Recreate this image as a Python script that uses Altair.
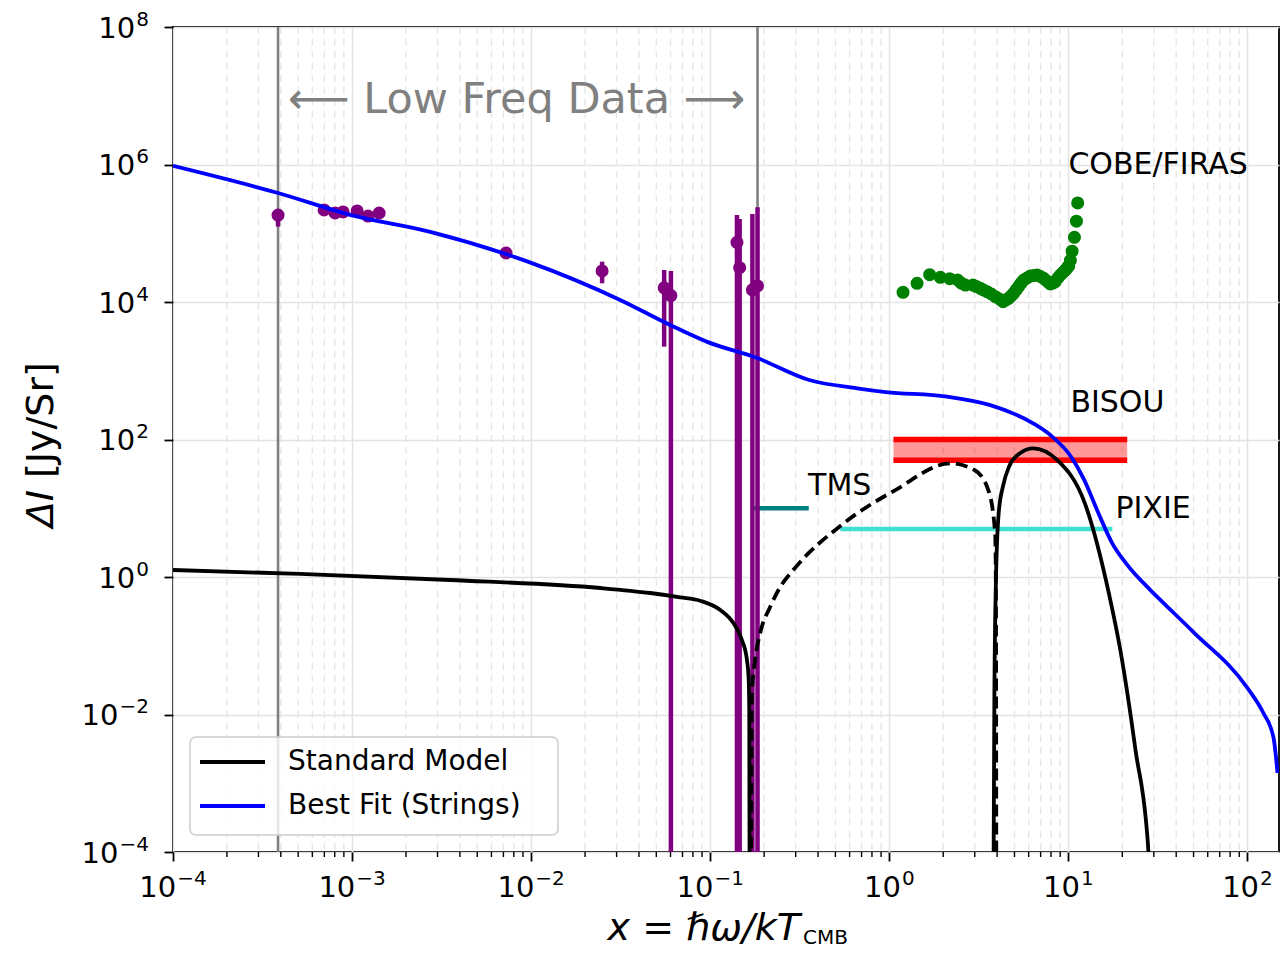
import altair as alt
import pandas as pd

FONT = "DejaVu Sans"
W, H = 1106, 825

# ---------------- data ----------------
best_fit_x = [1.0e-4, 3.86e-4, 9.86e-4, 2.73e-3, 9.75e-3, 3.14e-2, 5.98e-2, 9.62e-2, 0.183, 0.357,
              0.662, 0.955, 2.10, 3.66, 6.35, 7.93, 10.35, 12.27, 14.72, 17.58, 20.99, 28.7,
              32.7, 49.9, 100.0, 122.7, 139.6, 147.2]
best_fit_y = [9.55e5, 3.85e5, 1.84e5, 1.05e5, 3.80e4, 1.07e4, 4620, 2630, 1530, 733,
              556, 490, 420, 316, 172, 116, 56.2, 25.7, 8.45, 3.09, 1.58, 0.646,
              0.462, 0.158, 0.0243, 0.0105, 0.00468, 0.00141]

# Standard model |ΔI|: positive branch 1, negative (dashed) branch, positive branch 2
sm_pos1_x = [1e-4, 5.12e-4, 3.52e-3, 0.0243, 0.0462, 0.0679, 0.0879, 0.1138, 0.1349, 0.1503,
             0.1603, 0.1637, 0.1652, 0.1660]
sm_pos1_y = [1.265, 1.107, 0.904, 0.692, 0.585, 0.507, 0.452, 0.331, 0.212, 0.121,
             0.0621, 0.0355, 0.0116, 1e-5]
sm_neg_x = [0.1686, 0.171, 0.178, 0.190, 0.216, 0.246, 0.291, 0.556, 1.081, 2.19, 2.99, 3.57,
            3.90, 3.94, 3.96]
sm_neg_y = [1e-5, 0.0206, 0.0621, 0.153, 0.366, 0.716, 1.265, 6.04, 18.4, 45.1, 36.0, 18.4,
            4.32, 0.462, 1e-5]
sm_pos2_x = [3.81, 3.86, 3.94, 4.08, 4.33, 4.66, 5.39, 6.35, 8.65, 12.36, 16.83, 19.5, 23.7,
             28.0, 29.4]
sm_pos2_y = [1e-5, 0.0163, 0.904, 8.45, 21.8, 40.2, 63.7, 74.5, 50.4, 11.8, 0.579, 0.0867,
             0.00305, 1e-4, 1e-5]

# Low-frequency data points with error bars
lf_x = [3.86e-4, 6.98e-4, 8.04e-4, 8.91e-4, 1.067e-3, 1.227e-3, 1.416e-3, 7.24e-3, 0.0249,
        0.0553, 0.0603, 0.141, 0.146, 0.172, 0.1837]
lf_y = [1.84e5, 2.18e5, 1.97e5, 2.04e5, 2.11e5, 1.78e5, 1.97e5, 5.16e4, 2.83e4,
        1.61e4, 1.24e4, 7.39e4, 3.16e4, 1.50e4, 1.71e4]
lf_lo = [1.25e5, 2.18e5, 1.97e5, 2.04e5, 2.11e5, 1.78e5, 1.97e5, 5.16e4, 1.87e4,
         2240, 1e-5, 1e-5, 1e-5, 1e-5, 1e-5]
lf_hi = [2.2e5, 2.18e5, 1.97e5, 2.04e5, 2.11e5, 1.78e5, 1.97e5, 5.16e4, 3.86e4,
         2.92e4, 2.83e4, 1.84e5, 1.61e5, 1.90e5, 2.38e5]

# COBE/FIRAS
firas_x = [1.193, 1.429, 1.680, 1.928, 2.173, 2.409, 2.524, 2.659, 2.935, 3.062, 3.224, 3.350,
           3.516, 3.715, 3.909, 4.121, 4.317, 4.477, 4.637, 4.786, 4.943, 5.105, 5.272, 5.445,
           5.623, 5.875, 6.136, 6.397, 6.683, 6.982, 7.278, 7.603, 7.925, 8.185, 8.453, 8.730,
           9.016, 9.311, 9.616, 9.840, 10.04, 10.26, 10.49, 10.81, 11.09, 11.27]
firas_y = [13840, 18700, 24950, 22860, 21830, 20890, 18880, 17660, 17660, 16790, 15810, 14960,
           14120, 13070, 11940, 11060, 10090, 10690, 11320, 12220, 13380, 14960, 16700, 18880,
           20890, 22340, 23900, 24270, 24700, 23500, 22130, 20190, 18270, 18880, 19720, 22340,
           24700, 26850, 29170, 31260, 33420, 40180, 54830, 87300, 149600, 276000]

# Experiment sensitivities
bisou_x = [1.055, 21.3]
bisou_y = [50, 100]
tms_x = [0.176, 0.355]
tms_y = 10
pixie_x = [0.532, 17.6]
pixie_y = 5

# Low-frequency range boundaries
lowfreq_bounds = [3.86e-4, 0.1837]

# Annotations
ann_text = ["COBE/FIRAS", "BISOU", "TMS", "PIXIE"]
ann_x = [10.0, 10.26, 0.352, 18.3]
ann_y = [9.84e5, 340, 21.1, 9.75]

# Legend
legend_labels = ["Standard Model", "Best Fit (Strings)"]
legend_colors = ["black", "blue"]

# Axis ticks (labels are 10 with a superscript exponent)
x_major = [1e-4, 1e-3, 1e-2, 1e-1, 1e0, 1e1, 1e2]
x_exp = ["−4", "−3", "−2", "−1", "0", "1", "2"]
y_major = [1e-4, 1e-2, 1e0, 1e2, 1e4, 1e6, 1e8]
y_exp = ["−4", "−2", "0", "2", "4", "6", "8"]
x_minor = [m * d for d in x_major for m in range(2, 10) if m * d <= 150]

# ---------------- styling helpers ----------------
BASE_FS, EXP_FS = 29, 20
W10 = 2 * 0.636 * BASE_FS


def expw(s):
    return sum(0.838 if c == "−" else 0.636 for c in s) * EXP_FS


xs = alt.Scale(type="log", domain=[1e-4, 150], nice=False)
ys = alt.Scale(type="log", domain=[1e-4, 1e8], nice=False)

# ---------------- frames ----------------
lines_rows = []
for xv, yv in zip(sm_pos1_x, sm_pos1_y):
    lines_rows.append({"x": xv, "y": yv, "model": legend_labels[0], "seg": "a"})
for xv, yv in zip(sm_pos2_x, sm_pos2_y):
    lines_rows.append({"x": xv, "y": yv, "model": legend_labels[0], "seg": "b"})
for xv, yv in zip(best_fit_x, best_fit_y):
    lines_rows.append({"x": xv, "y": yv, "model": legend_labels[1], "seg": "c"})
lines_df = pd.DataFrame(lines_rows)
neg_df = pd.DataFrame({"x": sm_neg_x, "y": sm_neg_y})
lf_df = pd.DataFrame({"x": lf_x, "y": lf_y, "lo": lf_lo, "hi": lf_hi})
firas_df = pd.DataFrame({"x": firas_x, "y": firas_y})
minor_df = pd.DataFrame({"x": x_minor})
bounds_df = pd.DataFrame({"x": lowfreq_bounds})
bisou_df = pd.DataFrame({"x": [bisou_x[0]], "x2": [bisou_x[1]], "lo": [bisou_y[0]], "hi": [bisou_y[1]]})
bisou_lines = pd.DataFrame({"x": [bisou_x[0]] * 2, "x2": [bisou_x[1]] * 2, "y": bisou_y})
tms_df = pd.DataFrame({"x": [tms_x[0]], "x2": [tms_x[1]], "y": [tms_y]})
pixie_df = pd.DataFrame({"x": [pixie_x[0]], "x2": [pixie_x[1]], "y": [pixie_y]})
ann_df = pd.DataFrame({"x": ann_x, "y": ann_y, "t": ann_text})
lowfreq_df = pd.DataFrame({"x": [8.30e-3], "y": [8.67e6], "t": ["⟵ Low Freq Data ⟶"]})
leg_df = pd.DataFrame({"label": legend_labels, "color": legend_colors, "row": [0, 1]})
one = pd.DataFrame({"a": [0]})
xl_df = pd.DataFrame({"x": x_major, "e": x_exp})
yl_df = pd.DataFrame({"y": y_major, "e": y_exp,
                      "bx": [-24 - expw(e) - 1 for e in y_exp]})


def X(f="x"):
    return alt.X(f"{f}:Q", scale=xs, axis=None)


def Y(f="y"):
    return alt.Y(f"{f}:Q", scale=ys, axis=None)


legend_row = alt.Y("row:Q", scale=alt.Scale(domain=[0, 1], range=[735, 779]), axis=None)

minor_grid = alt.Chart(minor_df).mark_rule(color="#e6e6e6", strokeWidth=1.4, strokeDash=[7, 5]).encode(x=X())
minor_ticks = alt.Chart(minor_df).mark_rule(color="black", strokeWidth=1.4).encode(
    x=X(), y=alt.value(H), y2=alt.value(H + 5))
bounds = alt.Chart(bounds_df).mark_rule(color="#808080", strokeWidth=2.6).encode(x=X())
lowfreq = alt.Chart(lowfreq_df).mark_text(font=FONT, fontSize=43, color="#808080",
                                          align="center", baseline="middle").encode(
    x=X(), y=Y(), text="t:N")
bisou_fill = alt.Chart(bisou_df).mark_rect(color="#ff0000", opacity=0.4).encode(
    x=X(), x2="x2:Q", y=Y("lo"), y2="hi:Q")
bisou_rules = alt.Chart(bisou_lines).mark_rule(color="#ff0000", strokeWidth=5.5).encode(
    x=X(), x2="x2:Q", y=Y())
tms = alt.Chart(tms_df).mark_rule(color="#008080", strokeWidth=4.5).encode(x=X(), x2="x2:Q", y=Y())
pixie = alt.Chart(pixie_df).mark_rule(color="#40e0d0", strokeWidth=4.5).encode(x=X(), x2="x2:Q", y=Y())
errbars = alt.Chart(lf_df).mark_rule(color="#800080", strokeWidth=4.5, clip=True).encode(
    x=X(), y=Y("lo"), y2="hi:Q")
lf_pts = alt.Chart(lf_df).mark_circle(color="#800080", size=170, opacity=1).encode(x=X(), y=Y())
firas_pts = alt.Chart(firas_df).mark_circle(color="#008000", size=170, opacity=1).encode(x=X(), y=Y())
neg_line = alt.Chart(neg_df).mark_line(color="black", strokeWidth=3.8, strokeDash=[12, 6],
                                       interpolate="monotone", clip=True).encode(x=X(), y=Y())
main_lines = alt.Chart(lines_df).mark_line(strokeWidth=3.8, interpolate="monotone", clip=True).encode(
    x=alt.X("x:Q", scale=xs, axis=alt.Axis(values=x_major, labels=False, title=None, grid=True)),
    y=alt.Y("y:Q", scale=ys, axis=alt.Axis(values=y_major, labels=False, title=None, grid=True)),
    color=alt.Color("model:N", scale=alt.Scale(domain=legend_labels, range=legend_colors), legend=None),
    detail="seg:N",
)
ann = alt.Chart(ann_df).mark_text(font=FONT, fontSize=30, color="black", align="left",
                                  baseline="middle").encode(x=X(), y=Y(), text="t:N")

# x tick labels: "10" + superscript exponent, centred on the tick (grouped by exponent width)
xl_layers = []
for neg in (True, False):
    ew = expw("−1") if neg else expw("1")
    tot = W10 + 1 + ew
    filt = "indexof(datum.e, '−') >= 0" if neg else "indexof(datum.e, '−') < 0"
    base = alt.Chart(xl_df).transform_filter(filt)
    xl_layers.append(base.mark_text(font=FONT, fontSize=BASE_FS, align="left", baseline="alphabetic",
                                    dx=-tot / 2, color="black").encode(
        x=X(), y=alt.value(H + 45), text=alt.value("10")))
    xl_layers.append(base.mark_text(font=FONT, fontSize=EXP_FS, align="left", baseline="alphabetic",
                                    dx=-tot / 2 + W10 + 1, color="black").encode(
        x=X(), y=alt.value(H + 33), text="e:N"))

# y tick labels
yl_base = alt.Chart(yl_df).mark_text(font=FONT, fontSize=BASE_FS, align="right", baseline="alphabetic",
                                     dy=10.5, color="black").encode(
    x=alt.X("bx:Q", scale=None), y=Y(), text=alt.value("10"))
yl_exp = alt.Chart(yl_df).mark_text(font=FONT, fontSize=EXP_FS, align="right", baseline="alphabetic",
                                    dy=-1.5, color="black").encode(
    x=alt.value(-24), y=Y(), text="e:N")

# legend drawn as marks (matplotlib-style box)
leg_box = alt.Chart(one).mark_rect(fill="white", fillOpacity=0.8, stroke="#cccccc", strokeWidth=1.5,
                                   cornerRadius=6).encode(
    x=alt.value(17), x2=alt.value(385), y=alt.value(710), y2=alt.value(808))
leg_lines = alt.Chart(leg_df).mark_rule(strokeWidth=3.8).encode(
    x=alt.value(27), x2=alt.value(92), y=legend_row, color=alt.Color("color:N", scale=None))
leg_text = alt.Chart(leg_df).mark_text(font=FONT, fontSize=28, align="left", baseline="middle",
                                       color="black").encode(
    x=alt.value(115), y=legend_row, text="label:N")

# axis titles as text
xt1 = alt.Chart(one).mark_text(font=FONT, fontSize=38, fontStyle="italic", align="right",
                               baseline="alphabetic").encode(
    x=alt.value(627), y=alt.value(913), text=alt.value("x = ℏω/kT"))
xt2 = alt.Chart(one).mark_text(font=FONT, fontSize=20, align="left", baseline="alphabetic").encode(
    x=alt.value(630), y=alt.value(917), text=alt.value("CMB"))
yt1 = alt.Chart(one).mark_text(font=FONT, fontSize=38, fontStyle="italic", align="right",
                               baseline="middle", angle=270).encode(
    x=alt.value(-131), y=alt.value(463), text=alt.value("ΔI"))
yt2 = alt.Chart(one).mark_text(font=FONT, fontSize=38, align="left", baseline="middle",
                               angle=270).encode(
    x=alt.value(-131), y=alt.value(451), text=alt.value("[Jy/Sr]"))

chart = alt.layer(
    minor_grid, minor_ticks, bounds, lowfreq, bisou_fill, bisou_rules, tms, pixie,
    errbars, lf_pts, firas_pts, neg_line, main_lines, ann,
    *xl_layers, yl_base, yl_exp,
    leg_box, leg_lines, leg_text, xt1, xt2, yt1, yt2,
).resolve_scale(x="independent", y="independent").properties(
    width=W, height=H,
    autosize=alt.AutoSizeParams(type="none"),
    padding={"left": 165, "top": 19, "right": 1, "bottom": 99},
).configure_view(stroke="black", strokeWidth=1.8).configure_axis(
    domain=False, tickColor="black", tickWidth=1.8, tickSize=9,
    gridColor="#e3e3e3", gridWidth=1.5,
)

chart.save("out.html", embed_options={"renderer": "svg", "actions": False})
